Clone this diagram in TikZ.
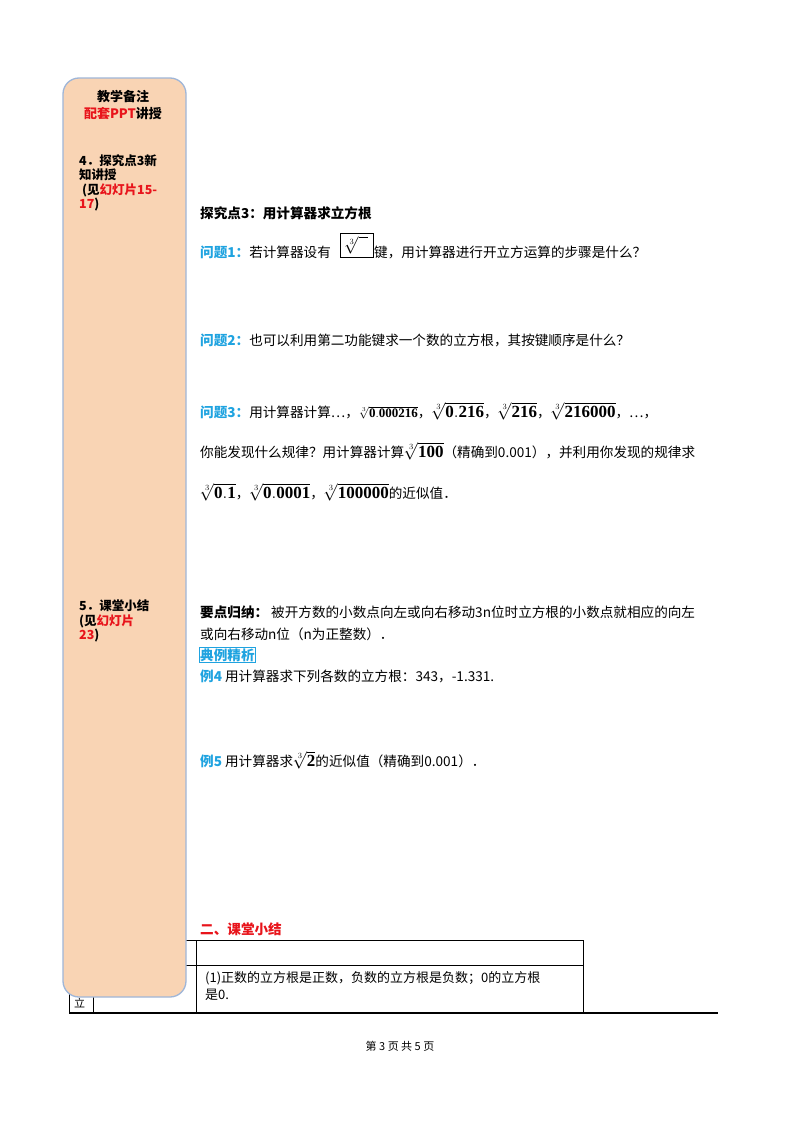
\documentclass[tikz,border=0pt]{standalone}
\usepackage{fontspec}
\usepackage{amsmath}
\newfontfamily\cjk{Noto Sans CJK SC}
\setmainfont{Liberation Serif}
\definecolor{peach}{HTML}{F9D4B4}
\definecolor{edge}{HTML}{9FB6D8}
\definecolor{qblue}{HTML}{1FA3E0}
\definecolor{rred}{HTML}{E8141B}
\newcommand{\cbr}[1]{{\fontsize{17}{17}\selectfont$\sqrt[3]{\mathbf{#1}}$}}
\begin{document}
\begin{tikzpicture}[x=1pt,y=-1pt,
  txt/.style={anchor=west,inner sep=0pt,font=\cjk\fontsize{13.6}{16}\selectfont},
  side/.style={anchor=north west,inner sep=0pt,font=\cjk\bfseries\fontsize{12.5}{14.5}\selectfont,align=left,text width=105pt}]
\useasboundingbox (0,0) rectangle (800,1132);
\fill[white] (0,0) rectangle (800,1132);
% table
\draw[line width=0.8pt] (69,940) -- (583,940) (69,965) -- (583,965) (69,940)--(69,1013) (93,965)--(93,1013) (196,940)--(196,1013) (583,940)--(583,1013);
\draw[line width=1.3pt] (69,1013) -- (718,1013);
\node[txt,font=\cjk\fontsize{11}{13}\selectfont] (li) at (74,1003) {立};
% sidebar
\draw[edge,fill=peach,line width=1.3pt,rounded corners=16pt] (63,78) rectangle (186,997);
\node[anchor=north,inner sep=0pt,font=\cjk\bfseries\fontsize{13}{15}\selectfont] (s1) at (123,90) {教学备注};
\node[anchor=north,inner sep=0pt,font=\cjk\bfseries\fontsize{13}{15}\selectfont] (s2) at (123,107) {\textcolor{rred}{配套PPT}讲授};
\node[side] (s3) at (79,154) {4．探究点3新\\知讲授\\\hspace{3pt}(见\textcolor{rred}{幻灯片15-}\\\textcolor{rred}{17})};
\node[side] (s4) at (79,600) {5．课堂小结\\(见\textcolor{rred}{幻灯片}\\\textcolor{rred}{23})};
% main text
\node[txt,font=\cjk\bfseries\fontsize{13.6}{16}\selectfont] (h) at (200,213) {探究点3：用计算器求立方根};
\node[txt] (q1) at (200,252) {\textcolor{qblue}{\bfseries 问题1：}若计算器设有};
\node[draw,line width=0.8pt,minimum width=33pt,minimum height=24pt,inner sep=0pt] (key) at (356.5,245) {\fontsize{17}{17}\selectfont$\sqrt[3]{\phantom{x}}$};
\node[txt] (q1b) at (374,252) {键，用计算器进行开立方运算的步骤是什么？};
\node[txt] (q2) at (200,340) {\textcolor{qblue}{\bfseries 问题2：}也可以利用第二功能键求一个数的立方根，其按键顺序是什么？};
\node[txt] (q3) at (200,411) {\textcolor{qblue}{\bfseries 问题3：}用计算器计算…，{\fontsize{13}{13}\selectfont$\sqrt[3]{\mathbf{0.000216}}$}，\cbr{0.216}，\cbr{216}，\cbr{216000}，…，};
\node[txt] (q3b) at (200,451) {你能发现什么规律？用计算器计算\cbr{100}（精确到0.001），并利用你发现的规律求};
\node[txt] (q3c) at (200,492) {\cbr{0.1}，\cbr{0.0001}，\cbr{100000}的近似值．};
\node[txt] (k1) at (200,612) {\textbf{要点归纳：}\ 被开方数的小数点向左或向右移动3n位时立方根的小数点就相应的向左};
\node[txt] (k2) at (200,634) {或向右移动n位（n为正整数）．};
\node[txt,draw=qblue,inner sep=1pt,text=qblue,font=\cjk\bfseries\fontsize{13.6}{16}\selectfont] (dl) at (199,655) {典例精析};
\node[txt] (e4) at (200,676) {\textcolor{qblue}{\bfseries 例4}\ 用计算器求下列各数的立方根：343，-1.331.};
\node[txt] (e5) at (200,760) {\textcolor{qblue}{\bfseries 例5}\ 用计算器求\cbr{2}的近似值（精确到0.001）．};
\node[txt,text=rred,font=\cjk\bfseries\fontsize{13.6}{16}\selectfont] (sum) at (200,929) {二、课堂小结};
\node[txt,font=\cjk\fontsize{13}{17}\selectfont,anchor=north west,align=left] (t1) at (205,971) {(1)正数的立方根是正数，负数的立方根是负数；0的立方根\\是0.};
\node[font=\cjk\fontsize{11}{13}\selectfont,inner sep=0pt] (pg) at (400,1046) {第 3 页 共 5 页};
\end{tikzpicture}
\end{document}
